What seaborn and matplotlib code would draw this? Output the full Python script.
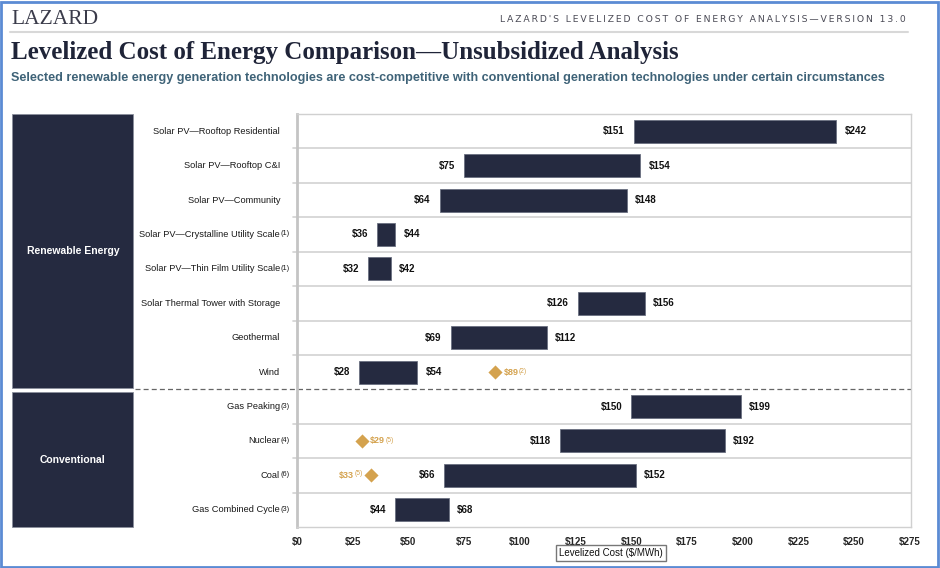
import matplotlib
matplotlib.use('Agg')
import matplotlib.pyplot as plt
import matplotlib.transforms as mtransforms
from matplotlib.patches import Rectangle
from matplotlib.lines import Line2D
import seaborn as sns
import pandas as pd

# data
techs = ['Solar PV\u2014Rooftop Residential', 'Solar PV\u2014Rooftop C&I', 'Solar PV\u2014Community',
         'Solar PV\u2014Crystalline Utility Scale', 'Solar PV\u2014Thin Film Utility Scale',
         'Solar Thermal Tower with Storage', 'Geothermal', 'Wind',
         'Gas Peaking', 'Nuclear', 'Coal', 'Gas Combined Cycle']
notes = ['', '', '', '(1)', '(1)', '', '', '', '(3)', '(4)', '(6)', '(3)']
low = [151, 75, 64, 36, 32, 126, 69, 28, 150, 118, 66, 44]
high = [242, 154, 148, 44, 42, 156, 112, 54, 199, 192, 152, 68]

marker_techs = ['Wind', 'Nuclear', 'Coal']
marker_vals = [89, 29, 33]
marker_notes = ['(2)', '(5)', '(5)']
marker_side = ['right', 'right', 'left']

groups = ['Renewable Energy', 'Conventional']
group_rows = [(0, 7), (8, 11)]

xticks = list(range(0, 276, 25))

navy = '#252a40'
gold = '#d4a24e'

sns.set_style('white')
plt.rcParams['font.family'] = ['Liberation Sans', 'DejaVu Sans']

df = pd.DataFrame({'tech': techs, 'low': low, 'high': high})

W, H = 940, 568
fig = plt.figure(figsize=(W / 100, H / 100), dpi=100)
ax = fig.add_axes([297 / W, 1 - 527 / H, (911 - 297) / W, (527 - 114) / H])

sns.barplot(data=df, x='high', y='tech', orient='h', color=navy, saturation=1,
            width=0.67, edgecolor='#6a7080', linewidth=0.6, ax=ax, zorder=3)
# turn the bars into floating ranges low..high
for p, lo, hi in zip(ax.patches, low, high):
    p.set_x(lo)
    p.set_width(hi - lo)

pos = {t: i for i, t in enumerate(techs)}
sns.scatterplot(x=marker_vals, y=[pos[t] for t in marker_techs], marker='D', s=52,
                color=gold, linewidth=0, ax=ax, zorder=5, legend=False)

ax.set_xlim(0, 275.5)
ax.set_ylim(len(techs) - 0.5, -0.5)

blend = mtransforms.blended_transform_factory(fig.transFigure, ax.transData)

# row separators
for i in range(len(techs) - 1):
    if i == 7:
        ax.plot([135 / W, 911 / W], [i + 0.5, i + 0.5], transform=blend, color='#666666',
                lw=0.9, ls=(0, (4, 2.5)), clip_on=False, zorder=2)
    else:
        ax.plot([293 / W, 911 / W], [i + 0.5, i + 0.5], transform=blend, color='#d2d2d2',
                lw=1.2, clip_on=False, zorder=1)

for s in ['top', 'right', 'bottom']:
    ax.spines[s].set_color('#d0d0d0')
    ax.spines[s].set_linewidth(1.0)
ax.spines['left'].set_color('#c4c4c4')
ax.spines['left'].set_linewidth(2.0)

ax.set_xticks(xticks)
ax.set_xticklabels([f'${v}' for v in xticks], fontweight='bold', fontsize=7)
ax.tick_params(axis='x', length=0, pad=7)
ax.set_yticks([])
ax.set_ylabel('')
ax.set_xlabel('')

fig.text(611 / W, 1 - 553 / H, 'Levelized Cost ($/MWh)', ha='center', va='center',
         fontsize=7, color='#111111',
         bbox=dict(boxstyle='square,pad=0.35', fc='white', ec='#777777', lw=1.0))

fig.canvas.draw()
renderer = fig.canvas.get_renderer()
inv = fig.transFigure.inverted()


def sup_at(xpix, ytop, s, color, ha='left', size=5):
    x, y = inv.transform((xpix, ytop))
    return fig.text(x, y, s, ha=ha, va='top', fontsize=size, color=color)


# category labels with footnote marks
for i, (t, n) in enumerate(zip(techs, notes)):
    txt = ax.text(280 / W, i, t, transform=blend, ha='right', va='center',
                  fontsize=6.7, color='#1a1a1a')
    if n:
        bb = txt.get_window_extent(renderer)
        sup_at(bb.x1 + 0.3, bb.y1 - 0.5, n, '#1a1a1a', size=5.3)

# value labels
for i, (lo, hi) in enumerate(zip(low, high)):
    ax.annotate(f'${lo}', xy=(lo, i), xytext=(-6.5, 0), textcoords='offset points',
                ha='right', va='center', fontsize=7, fontweight='bold', color='#111111')
    ax.annotate(f'${hi}', xy=(hi, i), xytext=(6, 0), textcoords='offset points',
                ha='left', va='center', fontsize=7, fontweight='bold', color='#111111')

# gold diamond labels
for t, v, n, side in zip(marker_techs, marker_vals, marker_notes, marker_side):
    i = pos[t]
    if side == 'right':
        a = ax.annotate(f'${v}', xy=(v, i), xytext=(6, 0), textcoords='offset points',
                        ha='left', va='center', fontsize=6.5, fontweight='bold', color=gold)
        bb = a.get_window_extent(renderer)
        sup_at(bb.x1 + 0.3, bb.y1 - 0.5, n, gold, size=4.8)
    else:
        xd, yd = ax.transData.transform((v, i))
        sp = sup_at(xd - 8, yd + 5, n, gold, ha='right', size=4.8)
        bb = sp.get_window_extent(renderer)
        xm, ym = inv.transform((bb.x0 - 0.3, yd))
        fig.text(xm, ym, f'${v}', ha='right', va='center', fontsize=6.5,
                 fontweight='bold', color=gold)

# group boxes on the left
for g, (r0, r1) in zip(groups, group_rows):
    top = r0 - 0.5 + (0.08 if r0 > 0 else 0)
    bot = r1 + 0.5 - (0.04 if r1 < len(techs) - 1 else 0)
    ax.add_patch(Rectangle((12 / W, top), 121 / W, bot - top, transform=blend,
                           facecolor=navy, edgecolor='#8a8f9c', lw=0.6, clip_on=False))
    ax.text(73 / W, (top + bot) / 2, g, transform=blend, ha='center', va='center',
            color='white', fontsize=7.5, fontweight='bold')

# header
fig.text(11 / W, 1 - 19 / H, 'LAZARD', ha='left', va='center', fontsize=15.5,
         family=['Liberation Serif', 'DejaVu Serif'], color='#3a3b4a')
head = '\u2009'.join("LAZARD'S LEVELIZED COST OF ENERGY ANALYSIS\u2014VERSION 13.0")
fig.text(906 / W, 1 - 20 / H, head, ha='right', va='center', fontsize=6.7,
         family=['DejaVu Sans'], color='#4a4a55')
fig.add_artist(Line2D([10 / W, 908 / W], [1 - 32 / H, 1 - 32 / H], transform=fig.transFigure,
                      color='#d8d8d8', lw=1.5))
fig.text(11 / W, 1 - 52 / H, 'Levelized Cost of Energy Comparison\u2014Unsubsidized Analysis',
         ha='left', va='center', fontsize=18, fontweight='bold',
         family=['Liberation Serif', 'DejaVu Serif'], color='#1f2438')
fig.text(11 / W, 1 - 78 / H, 'Selected renewable energy generation technologies are '
         'cost-competitive with conventional generation technologies under certain circumstances',
         ha='left', va='center', fontsize=9.1, fontweight='bold', color='#3f6378')

fig.add_artist(Rectangle((0.001, 0.002), 0.997, 0.995, transform=fig.transFigure, fill=False,
                         edgecolor='#5b8bd4', lw=2))

fig.savefig('out.png', dpi=100)
